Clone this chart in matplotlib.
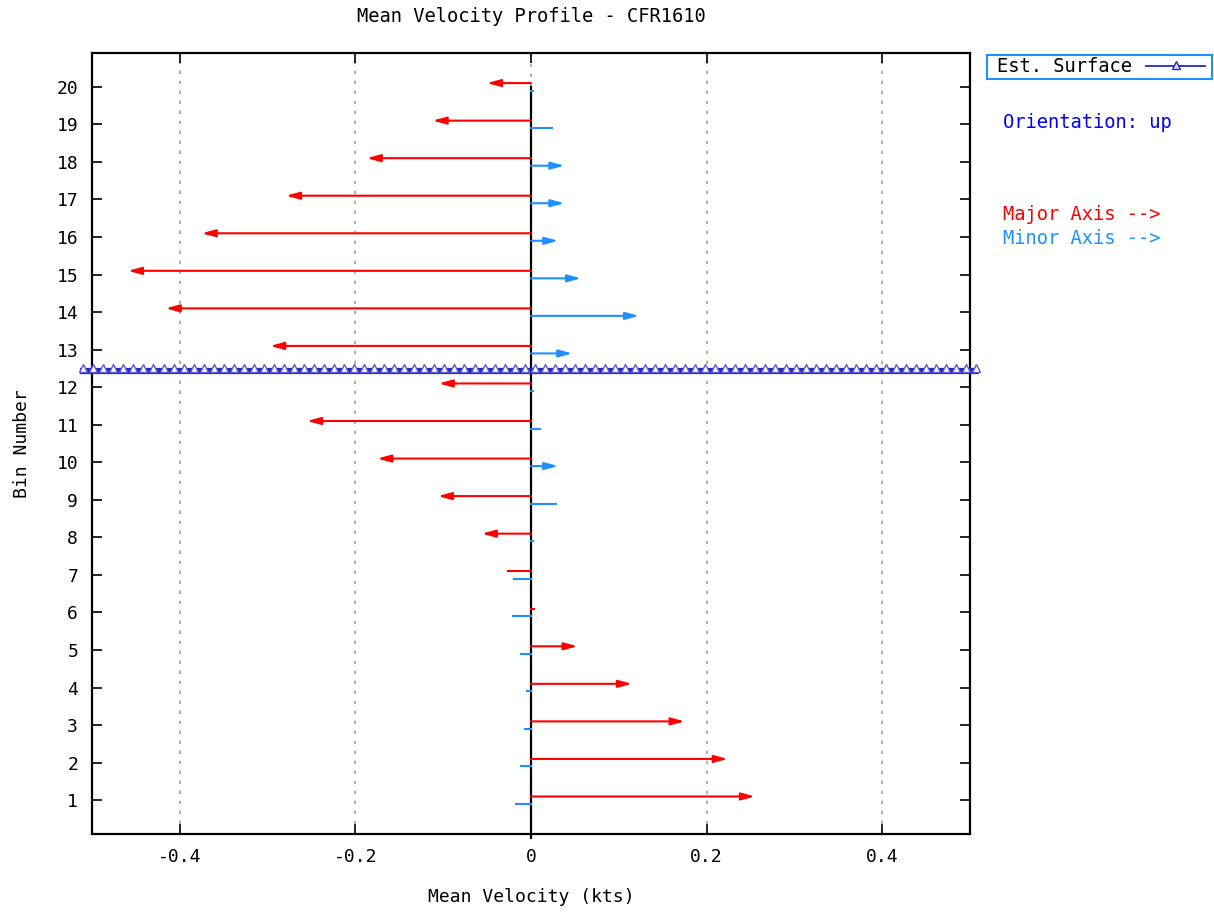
import numpy as np
import matplotlib
matplotlib.use("Agg")
from matplotlib import pyplot as plt
from matplotlib.lines import Line2D
from matplotlib.patches import Rectangle

plt.rcParams['font.family'] = ['DejaVu Sans Mono']

bins = list(range(1, 21))
# major axis velocity (kts), bin 1 .. 20
major = [0.255, 0.224, 0.175, 0.115, 0.053, 0.003, -0.026, -0.056, -0.106, -0.175,
         -0.255, -0.105, -0.297, -0.416, -0.459, -0.375, -0.279, -0.187, -0.112, -0.050]
# minor axis velocity (kts), bin 1 .. 20
minor = [-0.017, -0.011, -0.007, -0.005, -0.011, -0.021, -0.019, 0.002, 0.029, 0.031,
         0.010, 0.002, 0.047, 0.123, 0.057, 0.031, 0.038, 0.038, 0.024, 0.002]
surface_bin = 12.45

RED = '#ff0000'
LBLUE = '#1e90ff'
DBLUE = '#2828b8'

fig = plt.figure(figsize=(12.14, 9.13), dpi=100)
ax = fig.add_axes([0.0758, 0.0865, 0.7232, 0.8554])

ax.set_xlim(-0.5, 0.5)
ax.set_ylim(0.1, 20.9)

for x in [-0.4, -0.2, 0.2, 0.4]:
    ax.axvline(x, color='#a0a0a0', lw=1.2, ls=(0, (2, 4)), zorder=1)
ax.plot([0, 0], [20, 20.9], color='#a0a0a0', lw=1.2, ls=(0, (2, 4)), zorder=1)
ax.plot([0, 0], [0.0, 20], color='black', lw=1.6, zorder=3, clip_on=False)


def vec(y, v, color):
    if abs(v) > 0.03:
        ax.annotate('', xy=(v, y), xytext=(0, y),
                    arrowprops=dict(arrowstyle='-|>,head_length=0.8,head_width=0.22',
                                    color=color, lw=1.5, shrinkA=0, shrinkB=0,
                                    mutation_scale=10), zorder=4)
    else:
        ax.plot([0, v], [y, y], color=color, lw=1.5, zorder=4)


for b, v in zip(bins, major):
    vec(b + 0.1, v, RED)
for b, v in zip(bins, minor):
    vec(b - 0.1, v, LBLUE)

sx = np.linspace(-0.51, 0.507, 90)
ax.plot(sx, [surface_bin - 0.03] * len(sx), color=DBLUE, lw=4.5, clip_on=False, zorder=5)
ax.plot(sx, [surface_bin + 0.06] * len(sx), ls='none', marker='^', ms=6,
        mfc='white', mec='#5858d8', mew=1.0, clip_on=False, zorder=6)

ax.set_xticks([-0.4, -0.2, 0, 0.2, 0.4])
ax.set_xticklabels(['-0.4', '-0.2', '0', '0.2', '0.4'])
ax.set_yticks(bins)
ax.tick_params(direction='in', length=7, width=1.2, labelsize=13,
               top=True, right=True, pad=10)
for s in ax.spines.values():
    s.set_linewidth(1.6)

ax.set_xlabel('Mean Velocity (kts)', fontsize=13, labelpad=16)
ax.set_ylabel('Bin Number', fontsize=13, labelpad=18)
ax.set_title('Mean Velocity Profile - CFR1610', fontsize=13.5, pad=22)

# key / labels on the right
fig.add_artist(Rectangle((987 / 1214, 1 - 79 / 913), 225 / 1214, 24 / 913,
                         transform=fig.transFigure, fill=False, ec=LBLUE, lw=1.5))
fig.text(997 / 1214, 1 - 67 / 913, 'Est. Surface', fontsize=13.5, va='center')
fig.add_artist(Line2D([1146 / 1214, 1205 / 1214], [1 - 66 / 913] * 2,
                      transform=fig.transFigure, color=DBLUE, lw=1.3))
fig.add_artist(Line2D([1176 / 1214], [1 - 65 / 913], transform=fig.transFigure,
                      marker='^', ms=6, mfc='#d8d8ff', mec=DBLUE, mew=1))
fig.text(1003 / 1214, 1 - 122 / 913, 'Orientation: up', fontsize=13.5, color='#0000ff', va='center')
fig.text(1003 / 1214, 1 - 215 / 913, 'Major Axis -->', fontsize=13.5, color=RED, va='center')
fig.text(1003 / 1214, 1 - 238 / 913, 'Minor Axis -->', fontsize=13.5, color=LBLUE, va='center')

fig.savefig('out.png', dpi=100)
